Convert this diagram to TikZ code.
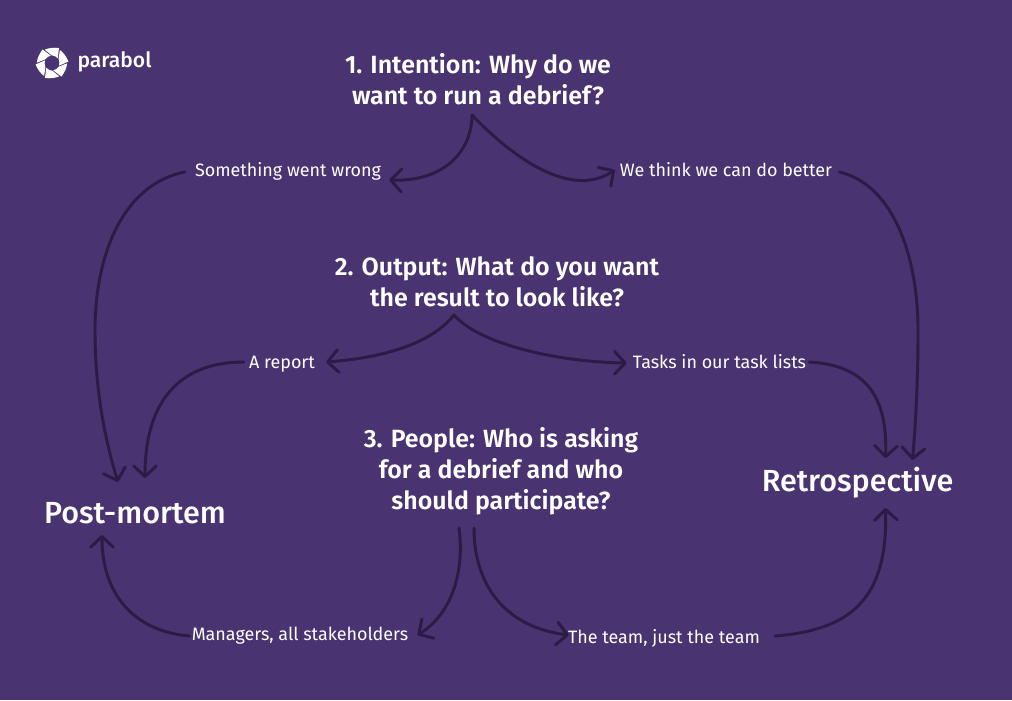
\documentclass[tikz,border=0pt]{standalone}
\usepackage{fontspec}
\setmainfont[BoldFont={Fira Sans SemiBold}]{Fira Sans}
\newfontfamily\mediumfont{Fira Sans Medium}
\usetikzlibrary{arrows.meta, calc}
\definecolor{bgcolor}{RGB}{73, 51, 113}
\definecolor{flowcolor}{RGB}{43, 27, 69}

\begin{document}
\begin{tikzpicture}[
    x=0.75pt, y=-0.75pt,
    question/.style={font=\fontsize{18.7}{23.2}\selectfont\bfseries, text=white, align=center, inner sep=0pt},
    option/.style={font=\fontsize{13.45}{16}\selectfont, text=white, inner sep=0pt, text height=13pt, text depth=3pt},
    verdict/.style={font=\fontsize{22.9}{28}\mediumfont, text=white, inner sep=0pt},
    flow/.style={draw=flowcolor, line width=2.2pt, line cap=round, -{Straight Barb[length=8pt, width=17pt, round]}}
]
    % Background
    \fill[bgcolor] (0, 0) rectangle (1012, 700);

    % Logo
    \foreach \petal in {5, 65, ..., 305} {
        \fill[white, shift={(52, 63)}, rotate=\petal]
            (16.5, 0) .. controls (15, -5) and (12.5, -9) .. (9, -12.3)
            -- (6.9, -3.6) .. controls (7.6, -1) and (7.6, 1) .. (6.8, 3.2) -- cycle;
    }
    \node[font=\fontsize{15.8}{18}\mediumfont, text=white, inner sep=0pt] (parabol) at (114.5, 62) {parabol};

    % Questions
    \node[question] (intention) at (478, 79.5) {1. Intention: Why do we\\want to run a debrief?};
    \node[question] (output) at (497, 281.5) {2. Output: What do you want\\the result to look like?};
    \node[question] (people) at (501, 471) {3. People: Who is asking\\for a debrief and who\\should participate?};

    % Options
    \node[option] (wrong) at (288, 170) {Something went wrong};
    \node[option] (better) at (726, 170) {We think we can do better};
    \node[option] (report) at (282, 362) {A report};
    \node[option] (tasks) at (719.5, 362) {Tasks in our task lists};
    \node[option] (managers) at (300, 634) {Managers, all stakeholders};
    \node[option] (team) at (664, 637) {The team, just the team};

    % Outcomes
    \node[verdict] (postmortem) at (135, 513) {Post-mortem};
    \node[verdict] (retro) at (857.5, 483) {Retrospective};

    % Arrows from question 1
    \draw[flow] ($(intention)+(-6, 35.5)$) .. controls (472, 150) and (445, 182) .. ($(wrong.east)+(8, 10)$);
    \draw[flow] ($(intention)+(-6, 35.5)$) .. controls (510, 155) and (570, 200) .. ($(better.west)+(-5, 0)$);
    \draw[flow] ($(wrong.west)+(-10, 2)$) .. controls (120, 185) and (95, 260) .. (95, 330) .. controls (95, 390) and (105, 440) .. ($(postmortem)+(-17, -31)$);
    \draw[flow] ($(better.east)+(7, 2)$) .. controls (895, 185) and (918, 260) .. (918, 330) .. controls (918, 390) and (915, 430) .. ($(retro)+(55, -23)$);

    % Arrows from question 2
    \draw[flow] ($(output)+(-43, 33.5)$) .. controls (430, 345) and (380, 358) .. ($(report.east)+(11, 0)$);
    \draw[flow] ($(output)+(-43, 33.5)$) .. controls (480, 345) and (560, 362) .. ($(tasks.west)+(-6, 1)$);
    \draw[flow] ($(report.west)+(-5, 0)$) .. controls (190, 362) and (145, 390) .. ($(postmortem)+(10, -35)$);
    \draw[flow] ($(tasks.east)+(3, 0)$) .. controls (860, 365) and (888, 390) .. ($(retro)+(28, -25)$);

    % Arrows from question 3
    \draw[flow] ($(people)+(-42, 57)$) .. controls (465, 575) and (450, 615) .. ($(managers.east)+(9, 1)$);
    \draw[flow] ($(people)+(-27, 57)$) .. controls (474, 590) and (510, 628) .. ($(team.west)+(1, -2)$);
    \draw[flow] ($(managers.west)+(-2, 2)$) .. controls (140, 632) and (102, 600) .. ($(postmortem)+(-33, 22)$);
    \draw[flow] ($(team.east)+(15, -1)$) .. controls (850, 630) and (888, 600) .. ($(retro)+(28, 25)$);
\end{tikzpicture}
\end{document}
